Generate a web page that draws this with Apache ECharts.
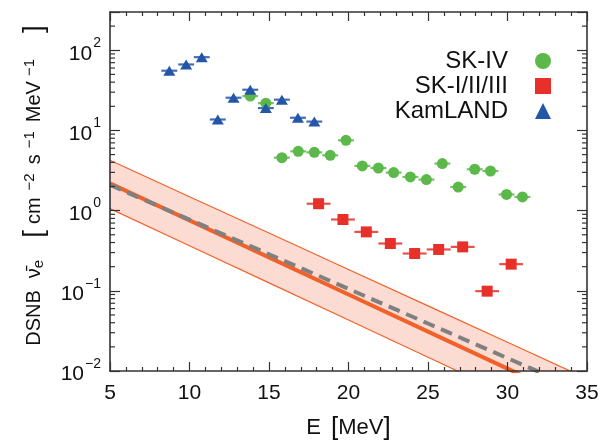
<!DOCTYPE html>
<html><head><meta charset="utf-8">
<script src="https://cdn.jsdelivr.net/npm/echarts@6/dist/echarts.min.js"></script>
<style>html,body{margin:0;padding:0;background:#fff}#c{width:615px;height:441px}</style>
</head><body><div id="c"></div>
<script>
// ---- data ----
const kamE = [8.73, 9.79, 10.77, 11.78, 12.77, 13.82, 14.80, 15.81, 16.82, 17.85];
const kamV = [55.6, 66.5, 82, 13.7, 25.6, 32.2, 19.0, 24.2, 14.4, 12.9];
const kamHalf = [0.5, 0.5, 0.5, 0.5, 0.5, 0.5, 0.5, 0.5, 0.5, 0.5];

const skivE = [13.82, 14.80, 15.81, 16.84, 17.85, 18.85, 19.84, 20.87, 21.88, 22.84, 23.89, 24.90, 25.90, 26.90, 27.94, 28.93, 29.94, 30.94];
const skivV = [26.8, 21.9, 4.58, 5.49, 5.33, 4.90, 7.53, 3.61, 3.40, 2.98, 2.63, 2.44, 3.86, 1.97, 3.28, 3.12, 1.59, 1.48];
const skivHalf = [0.5, 0.5, 0.5, 0.5, 0.5, 0.5, 0.5, 0.5, 0.5, 0.5, 0.5, 0.5, 0.5, 0.5, 0.5, 0.5, 0.5, 0.5];

const sk123E = [18.12, 19.65, 21.12, 22.63, 24.16, 25.67, 27.18, 28.72, 30.23];
const sk123V = [1.22, 0.775, 0.543, 0.389, 0.292, 0.328, 0.353, 0.099, 0.215];
const sk123Half = [0.75, 0.75, 0.75, 0.75, 0.75, 0.75, 0.75, 0.75, 0.75];

const curveE = [5, 10, 15, 20, 25, 30, 35];
const modelSolid = [2.19, 0.755, 0.261, 0.0898, 0.031, 0.0107, 0.00368];
const modelDashed = [2.09, 0.773, 0.286, 0.1057, 0.0391, 0.01445, 0.00535];
const bandUpper = [4.25, 1.49, 0.525, 0.1845, 0.0649, 0.0228, 0.00802];
const bandLower = [1.06, 0.365, 0.1256, 0.0432, 0.01484, 0.0051, 0.00175];

const yMajorExponents = [-2, -1, 0, 1, 2];
const yMinorTicks = [0.02,0.03,0.04,0.05,0.06,0.07,0.08,0.09,
  0.2,0.3,0.4,0.5,0.6,0.7,0.8,0.9, 2,3,4,5,6,7,8,9,
  20,30,40,50,60,70,80,90, 200];
const legendNames = ['SK-IV', 'SK-I/II/III', 'KamLAND'];

// ---- styling ----
const FONT = 'Liberation Sans, Arial, Helvetica, sans-serif';
const GREEN = '#5cb84a', RED = '#e8302a', BLUE = '#2456a8';
const ORANGE = '#f0622a', BAND = '#fcdcd2', GRAY = '#808080', AX = '#333';

const zip = (a, b) => a.map((v, i) => [v, b[i]]);
const zip3 = (a, b, c) => a.map((v, i) => [v, b[i], c[i]]);

function errRender(color) {
  return function (params, api) {
    const x = api.value(0), y = api.value(1), h = api.value(2);
    const p1 = api.coord([x - h, y]), p2 = api.coord([x + h, y]);
    return { type: 'line', shape: { x1: p1[0], y1: p1[1], x2: p2[0], y2: p2[1] },
      style: { stroke: color, lineWidth: 2.2, opacity: 0.85 } };
  };
}

const supFmt = (e) => (e < 0 ? '\u2212' + (-e) : '' + e);
// rich token styles for the rotated y title
const LH = 24;
const tt = (size, pl, pr) => ({ fontFamily: FONT, fontSize: size, color: '#111', lineHeight: LH,
  verticalAlign: 'middle', padding: [0, pr || 0, 0, pl || 0] });
const ts = (va) => ({ fontFamily: FONT, fontSize: 15, color: '#111', lineHeight: LH, verticalAlign: va });

const chart = echarts.init(document.getElementById('c'), null, { renderer: 'canvas' });
const option = {
  animation: false,
  backgroundColor: '#fff',
  grid: { left: 110, right: 28, top: 12, bottom: 70, containLabel: false, outerBoundsMode: 'none' },
  legend: {
    data: legendNames,
    orient: 'vertical', align: 'right',
    right: 59, top: 44,
    itemWidth: 16, itemHeight: 16, itemGap: 1,
    textStyle: { fontFamily: FONT, fontSize: 24, color: '#111', lineHeight: 23, padding: [0, 22, 0, 0] },
    selectedMode: false
  },
  xAxis: [{
    type: 'value', position: 'bottom', min: 5, max: 35, interval: 5,
    axisLine: { show: true, onZero: false, lineStyle: { color: AX, width: 1.6 } },
    axisTick: { show: true, inside: true, length: 9, lineStyle: { color: AX, width: 1.2 } },
    minorTick: { show: true, splitNumber: 5, length: 4, lineStyle: { color: AX, width: 1.2 } },
    splitLine: { show: false },
    axisLabel: { show: true, margin: 12, fontFamily: FONT, fontSize: 21, color: '#111', showMinLabel: true, showMaxLabel: true },
    name: '{t|E}   {br|[}{t|MeV}{br|]}', nameLocation: 'middle', nameGap: 44,
    nameTextStyle: { rich: {
      t: { fontFamily: FONT, fontSize: 22, color: '#111' },
      br: { fontFamily: FONT, fontSize: 26, color: '#111' } } },
    z: 10
  }, {
    type: 'value', position: 'top', min: 5, max: 35, interval: 5,
    axisLine: { show: true, onZero: false, lineStyle: { color: AX, width: 1.6 } },
    axisTick: { show: true, inside: true, length: 9, lineStyle: { color: AX, width: 1.2 } },
    minorTick: { show: true, splitNumber: 5, length: 4, lineStyle: { color: AX, width: 1.2 } },
    splitLine: { show: false }, axisLabel: { show: false }, z: 10
  }],
  yAxis: [{
    type: 'log', logBase: 10, min: 0.01, max: 300, position: 'left',
    axisLine: { show: true, onZero: false, lineStyle: { color: AX, width: 1.6 } },
    axisTick: { show: true, inside: true, length: 10, lineStyle: { color: AX, width: 1.2 } },
    splitLine: { show: false },
    axisLabel: {
      margin: 9, fontFamily: FONT, fontSize: 21, color: '#111',
      formatter: function (v) {
        const e = Math.round(Math.log10(v));
        if (yMajorExponents.indexOf(e) < 0 || Math.abs(v / Math.pow(10, e) - 1) > 1e-6) return '';
        return '{b|10}{s|' + supFmt(e) + '}';
      },
      rich: {
        b: { fontFamily: FONT, fontSize: 21, color: '#111', lineHeight: 28, verticalAlign: 'bottom' },
        s: { fontFamily: FONT, fontSize: 14, color: '#111', lineHeight: 28, verticalAlign: 'top', padding: [0, 0, 0, 1] }
      }
    },
    name: '{a|DSNB}{nu|\u03BD\u0304}{sub|e}{lb|[}{cm|cm}{sup|\u22122}{s|s}{sup|\u22121}{mev|MeV}{sup|\u22121}{rb|]}',
    nameLocation: 'middle', nameRotate: 90, nameGap: 64,
    nameTextStyle: { padding: [0, 0, 0, 12], lineHeight: LH, rich: {
      a: tt(20, 0, 12), nu: tt(20, 0, 0), sub: ts('bottom'),
      lb: tt(28, 22, 6),
      cm: tt(20, 0, 7), sup: ts('top'), s: tt(20, 9, 6), mev: tt(20, 9, 5),
      rb: tt(28, 26, 0) } },
    z: 10
  }, {
    type: 'log', logBase: 10, min: 0.01, max: 300, position: 'right',
    axisLine: { show: true, onZero: false, lineStyle: { color: AX, width: 1.6 } },
    axisTick: { show: true, inside: true, length: 10, lineStyle: { color: AX, width: 1.2 } },
    splitLine: { show: false }, axisLabel: { show: false }, z: 10
  }],
  series: [
    { // uncertainty band
      type: 'custom', name: 'band', clip: true, z: 1, silent: true,
      data: [[curveE[0], bandUpper[0]]],
      renderItem: function (params, api) {
        const pts = [];
        for (let i = 0; i < curveE.length; i++) pts.push(api.coord([curveE[i], bandUpper[i]]));
        for (let i = curveE.length - 1; i >= 0; i--) pts.push(api.coord([curveE[i], bandLower[i]]));
        return { type: 'polygon', shape: { points: pts }, style: { fill: BAND, stroke: null } };
      }
    },
    { type: 'line', name: 'upper', data: zip(curveE, bandUpper), symbol: 'none', z: 2, silent: true,
      lineStyle: { color: ORANGE, width: 1.2 } },
    { type: 'line', name: 'lower', data: zip(curveE, bandLower), symbol: 'none', z: 2, silent: true,
      lineStyle: { color: ORANGE, width: 1.2 } },
    { type: 'line', name: 'model', data: zip(curveE, modelSolid), symbol: 'none', z: 3, silent: true,
      lineStyle: { color: ORANGE, width: 4 } },
    { type: 'line', name: 'modelDashed', data: zip(curveE, modelDashed), symbol: 'none', z: 4, silent: true,
      lineStyle: { color: GRAY, width: 4, type: [12, 7] } },
    { type: 'custom', name: 'kamErr', data: zip3(kamE, kamV, kamHalf), encode: { x: 0, y: 1 }, z: 5,
      renderItem: errRender(BLUE), silent: true },
    { type: 'custom', name: 'skivErr', data: zip3(skivE, skivV, skivHalf), encode: { x: 0, y: 1 }, z: 5,
      renderItem: errRender(GREEN), silent: true },
    { type: 'custom', name: 'sk123Err', data: zip3(sk123E, sk123V, sk123Half), encode: { x: 0, y: 1 }, z: 5,
      renderItem: errRender(RED), silent: true },
    { type: 'scatter', name: 'SK-IV', data: zip(skivE, skivV), symbol: 'circle', symbolSize: 11, z: 6,
      itemStyle: { color: GREEN, opacity: 1 } },
    { type: 'scatter', name: 'SK-I/II/III', data: zip(sk123E, sk123V), symbol: 'rect', symbolSize: 11, z: 6,
      itemStyle: { color: RED, opacity: 1 } },
    { type: 'scatter', name: 'KamLAND', data: zip(kamE, kamV), symbol: 'triangle', symbolSize: [12, 10], z: 7,
      itemStyle: { color: BLUE, opacity: 1 } },
    { // log-scale minor ticks on left and right frame
      type: 'custom', name: 'yMinor', silent: true, z: 20,
      data: yMinorTicks.map(v => [5, v]), encode: { x: 0, y: 1 },
      renderItem: function (params, api) {
        const cs = params.coordSys;
        const y = api.coord([5, api.value(1)])[1];
        return { type: 'group', children: [
          { type: 'line', shape: { x1: cs.x, y1: y, x2: cs.x + 5, y2: y }, style: { stroke: AX, lineWidth: 1.2 } },
          { type: 'line', shape: { x1: cs.x + cs.width - 5, y1: y, x2: cs.x + cs.width, y2: y }, style: { stroke: AX, lineWidth: 1.2 } }
        ] };
      }
    }
  ]
};
chart.setOption(option);
</script>
</body></html>
